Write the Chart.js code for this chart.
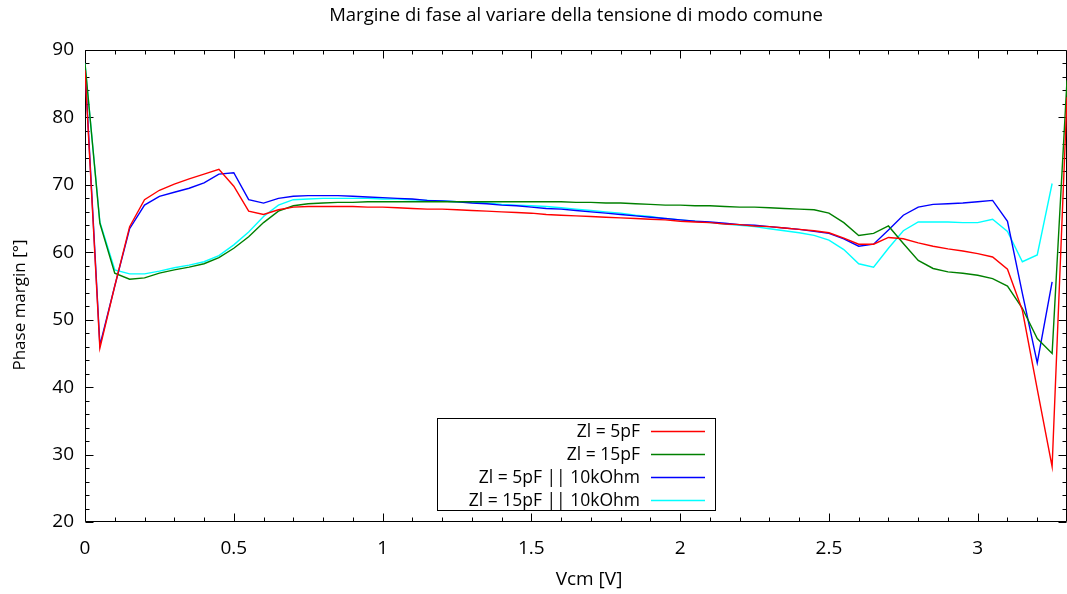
<!DOCTYPE html>
<html>
<head>
<meta charset="utf-8">
<script src="https://cdn.jsdelivr.net/npm/chart.js@4/dist/chart.umd.min.js"></script>
<style>
  html, body { margin: 0; padding: 0; background: #fff; }
  #c { display: block; }
</style>
</head>
<body>
<canvas id="c" width="1067" height="594"></canvas>
<script>
// Common-mode voltage sweep (V)
const vcm = [
  0.00, 0.05, 0.10, 0.15, 0.20, 0.25, 0.30, 0.35, 0.40, 0.45,
  0.50, 0.55, 0.60, 0.65, 0.70, 0.75, 0.80, 0.85, 0.90, 0.95,
  1.00, 1.05, 1.10, 1.15, 1.20, 1.25, 1.30, 1.35, 1.40, 1.45,
  1.50, 1.55, 1.60, 1.65, 1.70, 1.75, 1.80, 1.85, 1.90, 1.95,
  2.00, 2.05, 2.10, 2.15, 2.20, 2.25, 2.30, 2.35, 2.40, 2.45,
  2.50, 2.55, 2.60, 2.65, 2.70, 2.75, 2.80, 2.85, 2.90, 2.95,
  3.00, 3.05, 3.10, 3.15, 3.20, 3.25, 3.30
];

// Phase margin (degrees) for each load
const pm5pF = [
  87.0, 45.8, 55.0, 63.8, 67.8, 69.2, 70.1, 70.9, 71.6, 72.3,
  69.8, 66.1, 65.6, 66.3, 66.7, 66.8, 66.8, 66.8, 66.8, 66.7,
  66.7, 66.6, 66.5, 66.4, 66.4, 66.3, 66.2, 66.1, 66.0, 65.9,
  65.8, 65.6, 65.5, 65.4, 65.3, 65.2, 65.1, 65.0, 64.9, 64.8,
  64.6, 64.5, 64.4, 64.2, 64.1, 63.9, 63.8, 63.6, 63.4, 63.2,
  62.9, 62.1, 61.2, 61.2, 62.2, 62.0, 61.4, 60.9, 60.5, 60.2,
  59.8, 59.3, 57.5, 51.4, 39.7, 28.2, 83.0
];
const pm15pF = [
  88.0, 64.3, 56.9, 56.0, 56.2, 56.9, 57.4, 57.8, 58.3, 59.2,
  60.6, 62.3, 64.4, 66.1, 66.9, 67.2, 67.3, 67.4, 67.4, 67.5,
  67.5, 67.5, 67.5, 67.5, 67.5, 67.5, 67.5, 67.5, 67.5, 67.5,
  67.5, 67.5, 67.5, 67.4, 67.4, 67.3, 67.3, 67.2, 67.1, 67.0,
  67.0, 66.9, 66.9, 66.8, 66.7, 66.7, 66.6, 66.5, 66.4, 66.3,
  65.8, 64.4, 62.5, 62.8, 63.9, 61.3, 58.8, 57.6, 57.1, 56.9,
  56.6, 56.1, 55.0, 51.7, 47.2, 45.0, 85.5
];
const pm5pF10k = [
  87.5, 46.2, 55.0, 63.5, 67.0, 68.3, 68.9, 69.5, 70.3, 71.6,
  71.8, 67.8, 67.3, 68.0, 68.3, 68.4, 68.4, 68.4, 68.3, 68.2,
  68.1, 68.0, 67.9, 67.7, 67.6, 67.5, 67.3, 67.2, 67.0, 66.9,
  66.7, 66.5, 66.4, 66.2, 66.0, 65.8, 65.6, 65.4, 65.2, 65.0,
  64.8, 64.6, 64.5, 64.3, 64.1, 64.0, 63.8, 63.6, 63.4, 63.1,
  62.8, 62.0, 60.9, 61.2, 63.3, 65.5, 66.7, 67.1, 67.2, 67.3,
  67.5, 67.7, 64.6, 53.9, 43.6, 55.6
];
const pm15pF10k = [
  88.0, 64.5, 57.4, 56.8, 56.8, 57.2, 57.7, 58.1, 58.6, 59.5,
  61.1, 63.0, 65.3, 67.0, 67.8, 67.9, 68.0, 68.0, 68.0, 68.0,
  67.9, 67.9, 67.8, 67.7, 67.6, 67.5, 67.4, 67.3, 67.1, 67.0,
  66.9, 66.8, 66.6, 66.4, 66.2, 66.0, 65.8, 65.5, 65.3, 65.0,
  64.8, 64.6, 64.4, 64.2, 64.0, 63.8, 63.5, 63.2, 62.9, 62.5,
  61.8, 60.4, 58.3, 57.8, 60.6, 63.2, 64.5, 64.5, 64.5, 64.4,
  64.4, 64.9, 63.1, 58.6, 59.6, 70.2
];

const seriesLabels = ['Zl = 5pF', 'Zl = 15pF', 'Zl = 5pF || 10kOhm', 'Zl = 15pF || 10kOhm'];
const seriesColors = ['#ff0000', '#008000', '#0000ff', '#00ffff'];
const seriesValues = [pm5pF, pm15pF, pm5pF10k, pm15pF10k];

// Axis ticks and axis labels
const xTicks = [0, 0.5, 1, 1.5, 2, 2.5, 3];
const xMinorTicks = [0.1, 0.2, 0.3, 0.4, 0.6, 0.7, 0.8, 0.9, 1.1, 1.2, 1.3, 1.4, 1.6, 1.7, 1.8, 1.9,
                     2.1, 2.2, 2.3, 2.4, 2.6, 2.7, 2.8, 2.9, 3.1, 3.2];
const yTicks = [20, 30, 40, 50, 60, 70, 80, 90];
const yMinorTicks = [22, 24, 26, 28, 32, 34, 36, 38, 42, 44, 46, 48, 52, 54, 56, 58,
                     62, 64, 66, 68, 72, 74, 76, 78, 82, 84, 86, 88];
const xAxisLabel = 'Vcm [V]';
const yAxisLabel = 'Phase margin [°]';

const FONT = "'Open Sans', 'DejaVu Sans', sans-serif";

const datasets = seriesLabels.map((label, i) => ({
  label,
  data: seriesValues[i].map((v, k) => ({ x: vcm[k], y: v })),
  borderColor: seriesColors[i],
  backgroundColor: seriesColors[i],
  borderWidth: 1.4,
  pointRadius: 0,
  tension: 0,
  fill: false
}));

// Border box with inward major/minor ticks on all four sides
const framePlugin = {
  id: 'frame',
  beforeDatasetsDraw(chart) {
    const { ctx, chartArea: a, scales: { x, y } } = chart;
    const L = Math.round(a.left) + 0.5, R = Math.round(a.right) - 0.5;
    const T = Math.round(a.top) + 0.5, B = Math.round(a.bottom) - 0.5;
    ctx.save();
    ctx.strokeStyle = '#000';
    ctx.lineWidth = 1;
    ctx.beginPath();
    ctx.rect(L, T, R - L, B - T);
    const major = 8, minor = 4;
    const xt = (v, len) => {
      const p = Math.round(x.getPixelForValue(v)) + 0.5;
      ctx.moveTo(p, B); ctx.lineTo(p, B - len);
      ctx.moveTo(p, T); ctx.lineTo(p, T + len);
    };
    const yt = (v, len) => {
      const p = Math.round(y.getPixelForValue(v)) + 0.5;
      ctx.moveTo(L, p); ctx.lineTo(L + len, p);
      ctx.moveTo(R, p); ctx.lineTo(R - len, p);
    };
    xTicks.forEach(v => xt(v, major));
    xMinorTicks.forEach(v => xt(v, minor));
    yTicks.forEach(v => yt(v, major));
    yMinorTicks.forEach(v => yt(v, minor));
    ctx.stroke();
    ctx.restore();
  }
};

// Axis labels, placed a little off the plot centre
const axisLabelPlugin = {
  id: 'axisLabels',
  afterDraw(chart) {
    const { ctx, chartArea: a } = chart;
    ctx.save();
    ctx.fillStyle = '#000';
    ctx.textAlign = 'center';
    ctx.textBaseline = 'middle';
    ctx.font = '19px ' + FONT;
    ctx.fillText(xAxisLabel, (a.left + a.right) / 2 + 13, 580);
    ctx.translate(20, (a.top + a.bottom) / 2 + 19);
    ctx.rotate(-Math.PI / 2);
    ctx.font = '17px ' + FONT;
    ctx.fillText(yAxisLabel, 0, 0);
    ctx.restore();
  }
};

// Key box: right-aligned labels followed by a line sample
const keyPlugin = {
  id: 'key',
  afterDatasetsDraw(chart) {
    const { ctx } = chart;
    const box = { left: 437.5, top: 418.5, right: 715.5, bottom: 510.5 };
    ctx.save();
    ctx.fillStyle = '#fff';
    ctx.fillRect(box.left, box.top, box.right - box.left, box.bottom - box.top);
    ctx.strokeStyle = '#000';
    ctx.lineWidth = 1;
    ctx.strokeRect(box.left, box.top, box.right - box.left, box.bottom - box.top);
    ctx.font = '17.5px ' + FONT;
    ctx.textAlign = 'right';
    ctx.textBaseline = 'middle';
    chart.data.datasets.forEach((ds, i) => {
      const yy = 431 + i * 23;
      ctx.fillStyle = '#000';
      ctx.fillText(ds.label, 640, yy + 1);
      ctx.strokeStyle = ds.borderColor;
      ctx.lineWidth = 1.4;
      ctx.beginPath();
      ctx.moveTo(651, yy + 0.5);
      ctx.lineTo(705, yy + 0.5);
      ctx.stroke();
    });
    ctx.restore();
  }
};

// Center the title over the plotting area
const titleCenterPlugin = {
  id: 'titleCenter',
  afterLayout(chart) {
    if (chart.titleBlock) {
      chart.titleBlock.left = chart.chartArea.left;
      chart.titleBlock.right = chart.chartArea.right;
    }
  }
};

new Chart(document.getElementById('c'), {
  type: 'line',
  data: { datasets },
  plugins: [framePlugin, keyPlugin, titleCenterPlugin, axisLabelPlugin],
  options: {
    responsive: false,
    devicePixelRatio: 1,
    animation: false,
    layout: { padding: { left: 0, right: 0, top: 0, bottom: 0 } },
    plugins: {
      legend: { display: false },
      tooltip: { enabled: false },
      title: {
        display: true,
        text: 'Margine di fase al variare della tensione di modo comune',
        color: '#000',
        font: { family: FONT, size: 18.5, weight: 'normal', lineHeight: 1.2 },
        padding: { top: 5, bottom: 22.8 }
      }
    },
    scales: {
      x: {
        type: 'linear',
        min: 0,
        max: 3.3,
        afterFit(s) { s.height = 72; },
        afterBuildTicks(s) { s.ticks = xTicks.map(v => ({ value: v })); },
        grid: { display: false, drawTicks: false },
        border: { display: false },
        ticks: {
          color: '#000',
          font: { family: FONT, size: 19 },
          padding: 15,
          maxRotation: 0,
          callback: v => String(v)
        }
      },
      y: {
        type: 'linear',
        min: 20,
        max: 90,
        afterFit(s) { s.width = 85; },
        afterBuildTicks(s) { s.ticks = yTicks.map(v => ({ value: v })); },
        grid: { display: false, drawTicks: false },
        border: { display: false },
        ticks: {
          color: '#000',
          font: { family: FONT, size: 19 },
          padding: 11,
          callback: v => String(v)
        }
      }
    }
  }
});
</script>
</body>
</html>
